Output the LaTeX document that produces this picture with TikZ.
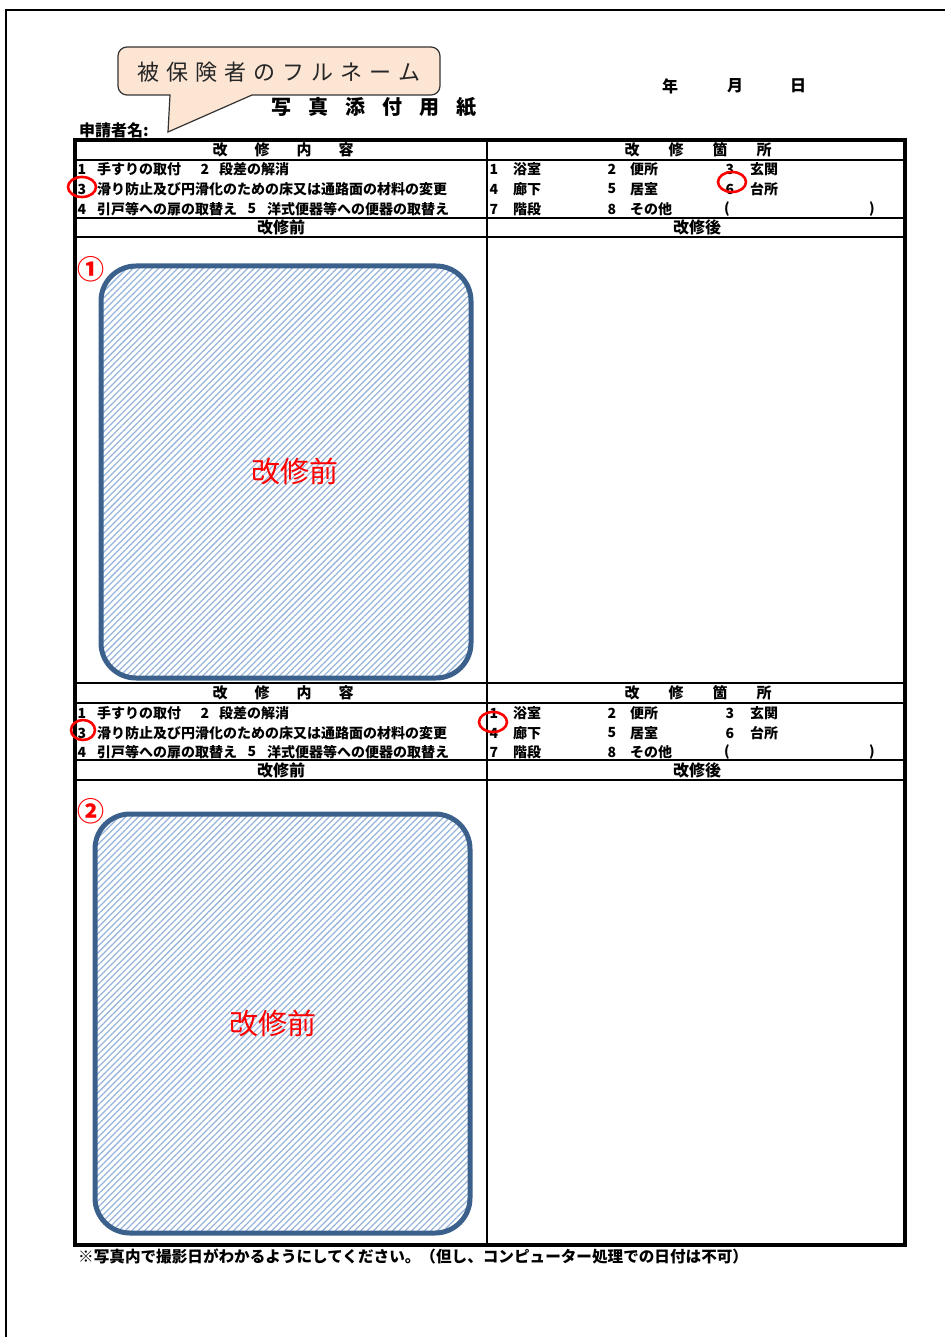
\documentclass[tikz,border=0pt]{standalone}
\usepackage{fontspec}
\setmainfont{Noto Sans CJK JP}
\usetikzlibrary{patterns.meta,shapes.geometric}
\definecolor{calloutfill}{RGB}{252,229,211}
\definecolor{framecol}{RGB}{59,96,140}
\definecolor{hatchcol}{RGB}{150,180,218}
\newcommand{\gapped}[2]{\foreach \ch [count=\k] in {#2}{\ifnum\k>1 \hspace{#1}\fi\ch}}
\tikzset{
  num/.style={font=\bfseries\fontsize{14}{14}\selectfont, inner sep=0pt},
  txt/.style={num, anchor=west},
  head/.style={font=\bfseries\fontsize{15}{15}\selectfont, inner sep=0pt},
  subhead/.style={font=\bfseries\fontsize{16}{16}\selectfont, inner sep=0pt},
  ring/.style={draw=red, line width=2.6pt, ellipse, minimum width=28pt, minimum height=20pt, inner sep=0pt},
  photo/.style={draw=framecol, line width=5pt, rounded corners=35pt,
    pattern={Lines[angle=45,distance=4.5pt,line width=1.25pt]}, pattern color=hatchcol},
  redlabel/.style={text=red, font=\fontsize{29}{29}\selectfont, inner sep=0pt},
  badge/.style={text=red, font=\bfseries\fontsize{27}{27}\selectfont, inner sep=0pt}
}
\begin{document}
\begin{tikzpicture}[x=1pt,y=-1pt]
  \useasboundingbox (0,0) rectangle (945,1337);
  \draw[line width=1.2pt] (6,1337) -- (6,10) -- (945,10);

  \draw[fill=calloutfill, draw=black!80, line width=1.2pt]
    (168,132) -- (170,95) [rounded corners=9pt] -- (118,95) -- (118,47) -- (440,47) -- (440,95)
    [sharp corners] -- (252,95) -- cycle;
  \node[font=\fontsize{22}{22}\selectfont, text=black!85, inner sep=0pt] (fullname) at (279,72)
    {\gapped{7pt}{被,保,険,者,の,フ,ル,ネ,ー,ム}};
  \node[font=\bfseries\fontsize{20}{20}\selectfont, inner sep=0pt] (title) at (374,107)
    {\gapped{17pt}{写,真,添,付,用,紙}};
  \node[subhead] (year) at (670,86) {年};
  \node[subhead] (month) at (735,86) {月};
  \node[subhead] (day) at (798,86) {日};
  \node[subhead, anchor=west] (applicant) at (79,130) {申請者名:};

  \draw[line width=4pt] (75,140) rectangle (905,1245);
  \draw[line width=2.2pt] (75,160) -- (905,160);
  \draw[line width=2.2pt] (75,218) -- (905,218);
  \draw[line width=2.2pt] (75,237) -- (905,237);
  \draw[line width=2.2pt] (75,683) -- (905,683);
  \draw[line width=2.2pt] (75,703) -- (905,703);
  \draw[line width=2.2pt] (75,760) -- (905,760);
  \draw[line width=2.2pt] (75,780) -- (905,780);
  \draw[line width=2.2pt] (487,140) -- (487,1245);

  \node[head] (contentA) at (283,150) {\gapped{27pt}{改,修,内,容}};
  \node[head] (placeA) at (698,150) {\gapped{29pt}{改,修,箇,所}};
  \node[num] (a1n1) at (82,169) {1};
  \node[txt] (a1t1) at (97,169) {手すりの取付};
  \node[num] (a1n2) at (205,169) {2};
  \node[txt] (a1t2) at (219,169) {段差の解消};
  \node[num] (a1n3) at (82,189) {3};
  \node[txt] (a1t3) at (97,189) {滑り防止及び円滑化のための床又は通路面の材料の変更};
  \node[num] (a1n4) at (82,209) {4};
  \node[txt] (a1t4) at (97,209) {引戸等への扉の取替え};
  \node[num] (a1n5) at (252,209) {5};
  \node[txt] (a1t5) at (267,209) {洋式便器等への便器の取替え};
  \node[num] (b1n1) at (494,169) {1};
  \node[txt] (b1t1) at (513,169) {浴室};
  \node[num] (b1n2) at (612,169) {2};
  \node[txt] (b1t2) at (630,169) {便所};
  \node[num] (b1n3) at (730,169) {3};
  \node[txt] (b1t3) at (750,169) {玄関};
  \node[num] (b1n4) at (494,189) {4};
  \node[txt] (b1t4) at (513,189) {廊下};
  \node[num] (b1n5) at (612,189) {5};
  \node[txt] (b1t5) at (630,189) {居室};
  \node[num] (b1n6) at (730,189) {6};
  \node[txt] (b1t6) at (750,189) {台所};
  \node[num] (b1n7) at (494,209) {7};
  \node[txt] (b1t7) at (513,209) {階段};
  \node[num] (b1n8) at (612,209) {8};
  \node[txt] (b1t8) at (630,209) {その他};
  \node[num] (b1open) at (727,209) {(};
  \node[num] (b1close) at (872,209) {)};
  \node[subhead] (beforeA) at (281,227) {改修前};
  \node[subhead] (afterA) at (697,227) {改修後};

  \node[head] (contentB) at (283,693) {\gapped{27pt}{改,修,内,容}};
  \node[head] (placeB) at (698,693) {\gapped{29pt}{改,修,箇,所}};
  \node[num] (a2n1) at (82,713) {1};
  \node[txt] (a2t1) at (97,713) {手すりの取付};
  \node[num] (a2n2) at (205,713) {2};
  \node[txt] (a2t2) at (219,713) {段差の解消};
  \node[num] (a2n3) at (82,733) {3};
  \node[txt] (a2t3) at (97,733) {滑り防止及び円滑化のための床又は通路面の材料の変更};
  \node[num] (a2n4) at (82,752) {4};
  \node[txt] (a2t4) at (97,752) {引戸等への扉の取替え};
  \node[num] (a2n5) at (252,752) {5};
  \node[txt] (a2t5) at (267,752) {洋式便器等への便器の取替え};
  \node[num] (b2n1) at (494,713) {1};
  \node[txt] (b2t1) at (513,713) {浴室};
  \node[num] (b2n2) at (612,713) {2};
  \node[txt] (b2t2) at (630,713) {便所};
  \node[num] (b2n3) at (730,713) {3};
  \node[txt] (b2t3) at (750,713) {玄関};
  \node[num] (b2n4) at (494,733) {4};
  \node[txt] (b2t4) at (513,733) {廊下};
  \node[num] (b2n5) at (612,733) {5};
  \node[txt] (b2t5) at (630,733) {居室};
  \node[num] (b2n6) at (730,733) {6};
  \node[txt] (b2t6) at (750,733) {台所};
  \node[num] (b2n7) at (494,752) {7};
  \node[txt] (b2t7) at (513,752) {階段};
  \node[num] (b2n8) at (612,752) {8};
  \node[txt] (b2t8) at (630,752) {その他};
  \node[num] (b2open) at (727,752) {(};
  \node[num] (b2close) at (872,752) {)};
  \node[subhead] (beforeB) at (281,770) {改修前};
  \node[subhead] (afterB) at (697,770) {改修後};

  \draw[photo] (101,266) rectangle (471,678);
  \node[redlabel] (photoA) at (295,471) {改修前};
  \node[badge] (numA) at (91,269) {①};
  \draw[photo] (95,814) rectangle (470,1233);
  \node[redlabel] (photoB) at (273,1023) {改修前};
  \node[badge] (numB) at (91,811) {②};

  \node[ring] (ringA) at (82,187) {};
  \node[ring] (ringB) at (732,182) {};
  \node[ring, minimum width=24pt] (ringC) at (83,730) {};
  \node[ring] (ringD) at (493,722) {};

  \node[anchor=west, font=\bfseries\fontsize{15.6}{15.6}\selectfont, inner sep=0pt] (note) at (78,1256)
    {※写真内で撮影日がわかるようにしてください。（但し、コンピューター処理での日付は不可）};
\end{tikzpicture}
\end{document}
